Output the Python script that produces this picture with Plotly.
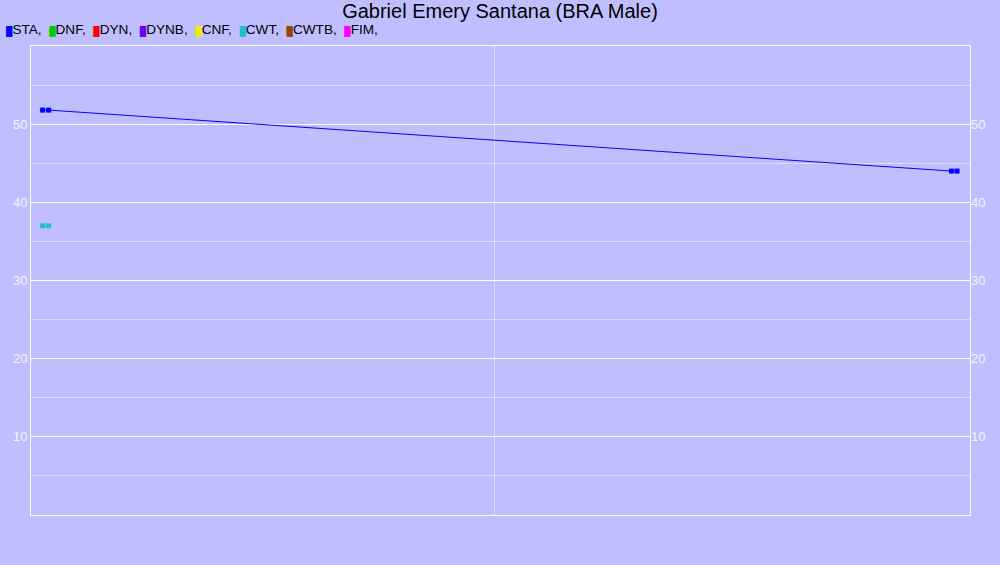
import plotly.graph_objects as go

# disciplines shown in the header legend
disciplines = ["STA", "DNF", "DYN", "DYNB", "CNF", "CWT", "CWTB", "FIM"]
colors = ["#0000FF", "#00CC00", "#FF0000", "#6600FF", "#EEEE00", "#1EC0D0", "#994400", "#FF00FF"]

# performances (x = position along the time axis, y = result)
sta_x = [0.025, 0.038, 1.984, 1.996]
sta_y = [51.8, 51.8, 44.0, 44.0]
cwt_x = [0.025, 0.038]
cwt_y = [37.0, 37.0]

y_ticks = [10, 20, 30, 40, 50]
y_minor = [5, 15, 25, 35, 45, 55]

bg = "#BFBFFF"
font_family = "Liberation Sans, Arial, sans-serif"

fig = go.Figure()
fig.add_trace(go.Scatter(
    x=sta_x, y=sta_y, mode="lines+markers", name="STA",
    line=dict(color=colors[0], width=1),
    marker=dict(symbol="square", size=5, color=colors[0]),
))
fig.add_trace(go.Scatter(
    x=cwt_x, y=cwt_y, mode="lines+markers", name="CWT",
    line=dict(color=colors[5], width=1),
    marker=dict(symbol="square", size=5, color=colors[5]),
))
# invisible trace to drive the right-hand axis labels
fig.add_trace(go.Scatter(x=[None], y=[None], yaxis="y2", showlegend=False))

legend_text = "".join(
    f"<span style='color:{c};font-size:9px'>█</span>{d},  " for d, c in zip(disciplines, colors)
)
fig.add_annotation(
    text=legend_text, xref="paper", yref="paper", x=0, y=1,
    xanchor="left", yanchor="middle", yshift=17, xshift=-27,
    showarrow=False, font=dict(size=13.6, color="black", family=font_family),
)

fig.update_layout(
    width=1000,
    height=565,
    paper_bgcolor=bg,
    plot_bgcolor=bg,
    showlegend=False,
    margin=dict(l=31, r=30, t=46, b=50),
    title=dict(
        text="Gabriel Emery Santana (BRA Male)",
        x=0.5, xanchor="center", y=0.981, yanchor="middle",
        font=dict(size=20, color="black", family=font_family),
    ),
    font=dict(family=font_family),
    xaxis=dict(
        range=[0, 2.024], tickvals=[1], showticklabels=False, ticks="",
        showgrid=True, gridcolor="rgba(255,255,255,0.45)", gridwidth=1,
        zeroline=False, showline=True, linecolor="white", linewidth=1, mirror=True,
    ),
    yaxis=dict(
        range=[0, 60], tickvals=y_ticks, showgrid=True, gridcolor="white", gridwidth=1,
        tickfont=dict(size=13, color="#F4F4FF"), ticks="",
        zeroline=False, showline=True, linecolor="white", linewidth=1, mirror=True,
        minor=dict(tickvals=y_minor, showgrid=True, gridcolor="rgba(255,255,255,0.45)", gridwidth=1),
    ),
    yaxis2=dict(
        range=[0, 60], tickvals=y_ticks, overlaying="y", side="right",
        showgrid=False, zeroline=False, ticks="",
        tickfont=dict(size=13, color="#F4F4FF"),
    ),
)

# drop the browser's default page margin so the chart fills the window
fig.write_html(
    "out.html",
    config={"displayModeBar": False},
    post_script="document.body.style.margin='0';",
)
